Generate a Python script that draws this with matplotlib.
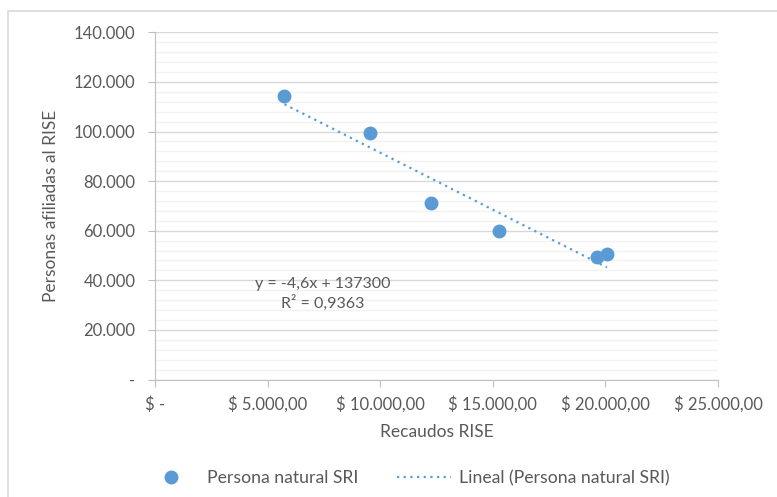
import matplotlib.pyplot as plt
import numpy as np
from matplotlib.ticker import FuncFormatter, MultipleLocator
from matplotlib.patches import Rectangle

# datos
recaudos = [5750, 9560, 12270, 15260, 19630, 20070]
personas = [114400, 99300, 71300, 60000, 49500, 50700]
serie = "Persona natural SRI"
ecuacion = "y = -4,6x + 137300\nR² = 0,9363"

azul = "#5B9BD5"
gris = "#595959"
plt.rcParams["font.family"] = ["Lato", "DejaVu Sans"]

fig = plt.figure(figsize=(7.77, 4.97), dpi=100)
ax = fig.add_axes([155 / 777, 1 - 379.5 / 497, (718 - 155) / 777, (379.5 - 32.3) / 497])

# marco del gráfico
fig.patches.append(Rectangle((8 / 777, -0.1), 1.2, 1 - 11 / 497 + 0.1, transform=fig.transFigure,
                             fill=False, edgecolor="#D9D9D9", linewidth=1.2))

ax.plot(recaudos, personas, "o", color=azul, markersize=9, label=serie, zorder=3)

# línea de tendencia
m, b = np.polyfit(recaudos, personas, 1)
xt = np.array([min(recaudos), max(recaudos)])
ax.plot(xt, m * xt + b, linestyle=(0, (1, 2)), color=azul, linewidth=1.6,
        label="Lineal (" + serie + ")", zorder=2)

ax.text(7450, 41500, ecuacion, ha="center", va="top", fontsize=11.5, color=gris, linespacing=1.35)

ax.set_xlim(0, 25000)
ax.set_ylim(0, 140000)
ax.xaxis.set_major_locator(MultipleLocator(5000))
ax.yaxis.set_major_locator(MultipleLocator(20000))
ax.yaxis.set_minor_locator(MultipleLocator(4000))


def fmt_x(v, pos):
    if v == 0:
        return "$ -"
    return "$ " + f"{v:,.2f}".replace(",", "X").replace(".", ",").replace("X", ".")


def fmt_y(v, pos):
    if v == 0:
        return "-"
    return f"{v:,.0f}".replace(",", ".")


ax.xaxis.set_major_formatter(FuncFormatter(fmt_x))
ax.yaxis.set_major_formatter(FuncFormatter(fmt_y))

ax.grid(True, which="major", axis="y", color="#D9D9D9", linewidth=1)
ax.grid(True, which="minor", axis="y", color="#F2F2F2", linewidth=1)
ax.set_axisbelow(True)

for s in ["top", "right"]:
    ax.spines[s].set_visible(False)
for s in ["left", "bottom"]:
    ax.spines[s].set_color("#BFBFBF")

ax.tick_params(axis="both", which="major", colors="#BFBFBF", labelcolor=gris, labelsize=12, length=5)
ax.tick_params(axis="x", pad=7)
ax.tick_params(axis="y", pad=9)
ax.tick_params(axis="y", which="minor", length=0)

ax.set_xlabel("Recaudos RISE", fontsize=12.5, color=gris, labelpad=8)
ax.set_ylabel("Personas afiliadas al RISE", fontsize=12.5, color=gris, labelpad=11)

fig.legend(loc="center", bbox_to_anchor=(407 / 777, 1 - 478 / 497), ncol=2, frameon=False,
           fontsize=12.7, labelcolor=gris, handlelength=3.1, columnspacing=2.2, handletextpad=0.45)

fig.savefig("out.png", dpi=100)
